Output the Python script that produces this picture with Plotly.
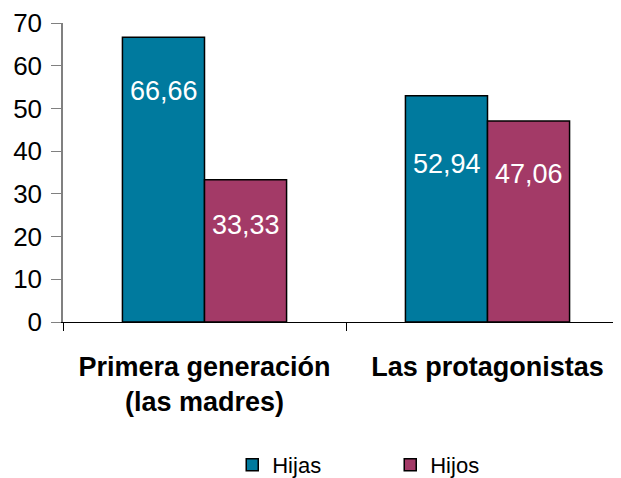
import plotly.graph_objects as go

categories = ["<b>Primera generación<br>(las madres)</b>", "<b>Las protagonistas</b>"]
hijas = [66.66, 52.94]
hijos = [33.33, 47.06]
hijas_labels = ["66,66", "52,94"]
hijos_labels = ["33,33", "47,06"]
y_ticks = [0, 10, 20, 30, 40, 50, 60, 70]

c_hijas = "#007A9E"
c_hijos = "#A33A67"

fig = go.Figure()
fig.add_trace(go.Bar(name="Hijas", x=categories, y=hijas, marker=dict(color=c_hijas, line=dict(color="black", width=1.5))))
fig.add_trace(go.Bar(name="Hijos", x=categories, y=hijos, marker=dict(color=c_hijos, line=dict(color="black", width=1.5))))

# label offsets below bar top (px)
hijas_off = [54, 68]
hijos_off = [45, 53]
for i, cat in enumerate(categories):
    fig.add_annotation(x=cat, y=hijas[i], text=hijas_labels[i], showarrow=False, xshift=-41, yshift=-hijas_off[i],
                       font=dict(color="white", size=27, family="Arial"))
    fig.add_annotation(x=cat, y=hijos[i], text=hijos_labels[i], showarrow=False, xshift=41, yshift=-hijos_off[i],
                       font=dict(color="white", size=27, family="Arial"))

fig.update_layout(
    width=621, height=478,
    margin=dict(l=55, r=0, t=15, b=164, autoexpand=False),
    plot_bgcolor="white", paper_bgcolor="white",
    barmode="group", bargap=0.42, bargroupgap=0,
    font=dict(family="Arial", color="black"),
    showlegend=True,
    legend=dict(orientation="h", x=0.299, y=-0.478, xanchor="left", yanchor="middle",
                font=dict(size=22, family="Arial"), entrywidth=113, traceorder="normal"),
)
fig.update_xaxes(range=[-0.5, 1.5], showline=True, linecolor="black", linewidth=1.2,
                 ticks="outside", tickson="boundaries", ticklen=8, tickcolor="black",
                 tickfont=dict(size=27, family="Arial", color="black"), ticklabelstandoff=20,
                 showgrid=False, zeroline=False, automargin=False)
fig.update_yaxes(range=[0, 70], tickvals=y_ticks, showline=True, linecolor="#808080", linewidth=1.5,
                 ticks="outside", ticklen=10, tickcolor="#808080",
                 tickfont=dict(size=26, family="Arial", color="black"), ticklabelstandoff=4,
                 showgrid=False, zeroline=False, automargin=False)
fig.write_html("out.html")
